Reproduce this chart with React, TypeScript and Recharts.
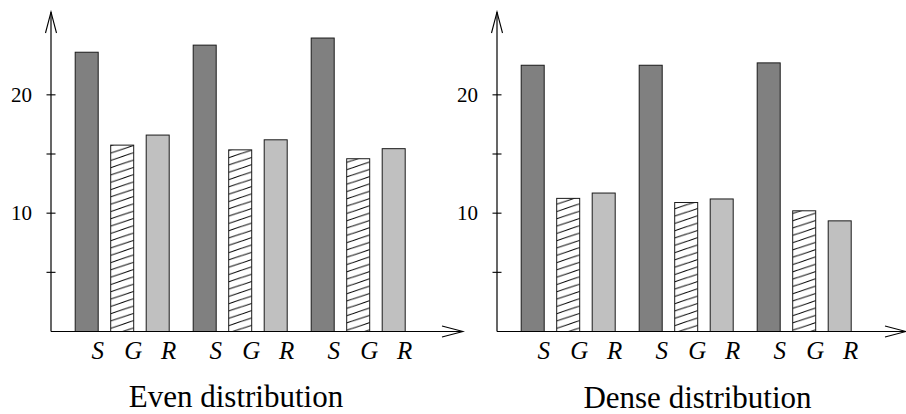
import React from 'react';
import { BarChart, Bar, XAxis, YAxis } from 'recharts';

const groups = ['A', 'B', 'C'];
const seriesNames = ['S', 'G', 'R'];
const evenS = [23.6, 24.2, 24.8];
const evenG = [15.75, 15.35, 14.6];
const evenR = [16.6, 16.2, 15.45];
const denseS = [22.5, 22.5, 22.7];
const denseG = [11.25, 10.9, 10.2];
const denseR = [11.7, 11.2, 9.35];
const yTicks = [5, 10, 15, 20];
const yTickLabels = ['', '10', '', '20'];
const titles = ['Even distribution', 'Dense distribution'];

const build = (s: number[], g: number[], r: number[]) =>
  groups.map((name, i) => ({ name, S: s[i], G: g[i], R: r[i] }));

const evenData = build(evenS, evenG, evenR);
const denseData = build(denseS, denseG, denseR);

const SERIF = '"Liberation Serif", "DejaVu Serif", serif';

const YTick = (props: any) => {
  const { x, y, payload } = props;
  const idx = yTicks.indexOf(payload.value);
  const label = idx >= 0 ? yTickLabels[idx] : '';
  return (
    <g>
      <line x1={x - 4.5} x2={x + 4.5} y1={y} y2={y} stroke="#000" strokeWidth={1.1} />
      {label ? (
        <text x={x - 19} y={y} dy={6.8} textAnchor="end" style={{ fontFamily: SERIF, fontSize: 21 }} fill="#000">
          {label}
        </text>
      ) : null}
    </g>
  );
};

const makeShape = (name: string, fill: string) => (p: any) => {
  const { x, y, width, height } = p;
  return (
    <g>
      <rect x={x} y={y} width={width} height={height} fill={fill} stroke="#1a1a1a" strokeWidth={1} />
      <text
        x={x + width / 2 + 11}
        y={y + height + 27.5}
        textAnchor="middle"
        style={{ fontFamily: SERIF, fontStyle: 'italic', fontSize: 25 }}
        fill="#000"
      >
        {name}
      </text>
    </g>
  );
};

function Panel({ id, data, width, marginRight }: { id: string; data: any[]; width: number; marginRight: number }) {
  const left = 11;
  const yAxisWidth = 40;
  const plotWidth = width - left - yAxisWidth - marginRight;
  const padLeft = 12.2;
  const padRight = plotWidth - padLeft - 354;
  const hatch = `hatch-${id}`;
  const arrow = `arrow-${id}`;
  const fills = ['#808080', `url(#${hatch})`, '#c0c0c0'];
  return (
    <BarChart
      width={width}
      height={414}
      data={data}
      margin={{ top: 12, right: marginRight, bottom: 52.5, left }}
      barSize={23}
      barGap={12.5}
    >
      <defs>
        <pattern id={hatch} patternUnits="userSpaceOnUse" width={22} height={7.3}>
          <rect x={0} y={0} width={22} height={7.3} fill="#fff" />
          {[-1, 0, 1].map((k) => (
            <line
              key={k}
              x1={-2}
              y1={7.3 + 2 / 3 + k * 7.3}
              x2={24}
              y2={7.3 - 24 / 3 + k * 7.3}
              stroke="#000"
              strokeWidth={1}
            />
          ))}
        </pattern>
        <marker
          id={arrow}
          viewBox="-23 -7 25 14"
          refX={0}
          refY={0}
          markerWidth={25}
          markerHeight={14}
          markerUnits="userSpaceOnUse"
          orient="auto-start-reverse"
        >
          <path d="M -21 -5.5 L 0 0 L -21 5.5" fill="none" stroke="#000" strokeWidth={1.1} />
        </marker>
      </defs>
      <XAxis
        dataKey="name"
        padding={{ left: padLeft, right: padRight }}
        tick={false}
        tickLine={false}
        height={30}
        axisLine={{ stroke: '#000', strokeWidth: 1.2, markerEnd: `url(#${arrow})` } as any}
      />
      <YAxis
        domain={[0, 27]}
        ticks={yTicks}
        width={yAxisWidth}
        tickSize={0}
        tickMargin={0}
        tickLine={false}
        tick={<YTick />}
        interval={0}
        axisLine={{ stroke: '#000', strokeWidth: 1.2, markerStart: `url(#${arrow})` } as any}
      />
      {seriesNames.map((s, i) => (
        <Bar key={s} dataKey={s} isAnimationActive={false} shape={makeShape(s, fills[i])} />
      ))}
    </BarChart>
  );
}

export default function App() {
  return (
    <div style={{ position: 'absolute', left: 0, top: 0, width: 906, height: 414, background: '#fff' }}>
      <div style={{ position: 'absolute', left: 0, top: 0 }}>
        <Panel id="even" data={evenData} width={470} marginRight={7} />
      </div>
      <div style={{ position: 'absolute', left: 446, top: 0 }}>
        <Panel id="dense" data={denseData} width={460} marginRight={0} />
      </div>
      <svg width={906} height={414} style={{ position: 'absolute', left: 0, top: 0, pointerEvents: 'none' }}>
        <text x={236} y={407} textAnchor="middle" style={{ fontFamily: SERIF, fontSize: 31 }} fill="#000">
          {titles[0]}
        </text>
        <text x={697.5} y={407.5} textAnchor="middle" style={{ fontFamily: SERIF, fontSize: 31 }} fill="#000">
          {titles[1]}
        </text>
      </svg>
    </div>
  );
}
